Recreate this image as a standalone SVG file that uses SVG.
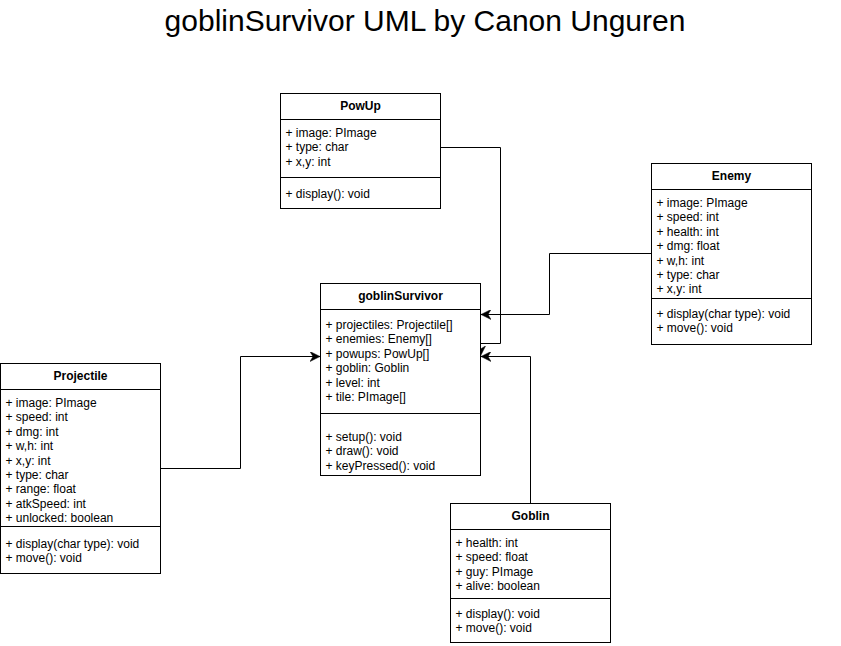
<svg xmlns="http://www.w3.org/2000/svg" width="841" height="646" viewBox="0 0 841 646">
<style>
  text { font-family: "Liberation Sans", Arial, Helvetica, sans-serif; font-size: 12px; fill: #000; }
  .hd { font-weight: bold; text-anchor: middle; }
  .ttl { font-size: 30px; text-anchor: middle; }
  .box { fill: #fff; stroke: #000; stroke-width: 1; }
  .ln { stroke: #000; stroke-width: 1; fill: none; }
  .edge { stroke: #000; stroke-width: 1; fill: none; marker-end: url(#arr); }
</style>
<defs>
  <marker id="arr" viewBox="0 0 10 10" refX="10" refY="5" markerWidth="10" markerHeight="10" markerUnits="userSpaceOnUse" orient="auto">
    <path d="M0,0 L10,5 L0,10 L3,5 z" fill="#000" stroke="#000" stroke-width="0.5"/>
  </marker>
</defs>
<rect width="841" height="646" fill="#fff"/>
<text class="ttl" x="425" y="31">goblinSurvivor UML by Canon Unguren</text>

<g id="connectors">
  <path class="edge" d="M440.5,147.5 H500.5 V343.5 H480.5 V356"/>
  <path class="edge" d="M651,253.5 H549.5 V314.5 H481"/>
  <path class="edge" d="M530.5,503 V356.5 H481"/>
  <path class="edge" d="M160.5,468.5 H240.5 V356.5 H320"/>
</g>

<g id="PowUp">
  <rect class="box" x="280.5" y="93.5" width="160" height="115"/>
  <line class="ln" x1="280.5" y1="119.5" x2="440.5" y2="119.5"/>
  <line class="ln" x1="280.5" y1="177.5" x2="440.5" y2="177.5"/>
  <text class="hd" x="360.5" y="110">PowUp</text>
  <text x="285.5" y="137">+ image: PImage</text>
  <text x="285.5" y="151.4">+ type: char</text>
  <text x="285.5" y="165.8">+ x,y: int</text>
  <text x="285.5" y="198">+ display(): void</text>
</g>

<g id="Enemy">
  <rect class="box" x="651.5" y="163.5" width="160" height="181"/>
  <line class="ln" x1="651.5" y1="189.5" x2="811.5" y2="189.5"/>
  <line class="ln" x1="651.5" y1="298.5" x2="811.5" y2="298.5"/>
  <text class="hd" x="731.5" y="180">Enemy</text>
  <text x="656.5" y="207">+ image: PImage</text>
  <text x="656.5" y="221.4">+ speed: int</text>
  <text x="656.5" y="235.8">+ health: int</text>
  <text x="656.5" y="250.2">+ dmg: float</text>
  <text x="656.5" y="264.6">+ w,h: int</text>
  <text x="656.5" y="279">+ type: char</text>
  <text x="656.5" y="293.4">+ x,y: int</text>
  <text x="656.5" y="318">+ display(char type): void</text>
  <text x="656.5" y="332.4">+ move(): void</text>
</g>

<g id="goblinSurvivor">
  <rect class="box" x="320.5" y="283.5" width="160" height="192"/>
  <line class="ln" x1="320.5" y1="309.5" x2="480.5" y2="309.5"/>
  <line class="ln" x1="320.5" y1="413.5" x2="480.5" y2="413.5"/>
  <text class="hd" x="400.5" y="300">goblinSurvivor</text>
  <text x="325.5" y="329">+ projectiles: Projectile[]</text>
  <text x="325.5" y="343.4">+ enemies: Enemy[]</text>
  <text x="325.5" y="357.8">+ powups: PowUp[]</text>
  <text x="325.5" y="372.2">+ goblin: Goblin</text>
  <text x="325.5" y="386.6">+ level: int</text>
  <text x="325.5" y="401">+ tile: PImage[]</text>
  <text x="325.5" y="441">+ setup(): void</text>
  <text x="325.5" y="455.4">+ draw(): void</text>
  <text x="325.5" y="469.8">+ keyPressed(): void</text>
</g>

<g id="Projectile">
  <rect class="box" x="0.5" y="363.5" width="160" height="210"/>
  <line class="ln" x1="0.5" y1="389.5" x2="160.5" y2="389.5"/>
  <line class="ln" x1="0.5" y1="526.5" x2="160.5" y2="526.5"/>
  <text class="hd" x="80.5" y="380">Projectile</text>
  <text x="5.5" y="407">+ image: PImage</text>
  <text x="5.5" y="421.4">+ speed: int</text>
  <text x="5.5" y="435.8">+ dmg: int</text>
  <text x="5.5" y="450.2">+ w,h: int</text>
  <text x="5.5" y="464.6">+ x,y: int</text>
  <text x="5.5" y="479">+ type: char</text>
  <text x="5.5" y="493.4">+ range: float</text>
  <text x="5.5" y="507.8">+ atkSpeed: int</text>
  <text x="5.5" y="522.2">+ unlocked: boolean</text>
  <text x="5.5" y="548">+ display(char type): void</text>
  <text x="5.5" y="562.4">+ move(): void</text>
</g>

<g id="Goblin">
  <rect class="box" x="450.5" y="503.5" width="160" height="139"/>
  <line class="ln" x1="450.5" y1="529.5" x2="610.5" y2="529.5"/>
  <line class="ln" x1="450.5" y1="598.5" x2="610.5" y2="598.5"/>
  <text class="hd" x="530.5" y="520">Goblin</text>
  <text x="455.5" y="547">+ health: int</text>
  <text x="455.5" y="561.4">+ speed: float</text>
  <text x="455.5" y="575.8">+ guy: PImage</text>
  <text x="455.5" y="590.2">+ alive: boolean</text>
  <text x="455.5" y="618">+ display(): void</text>
  <text x="455.5" y="632.4">+ move(): void</text>
</g>
</svg>
